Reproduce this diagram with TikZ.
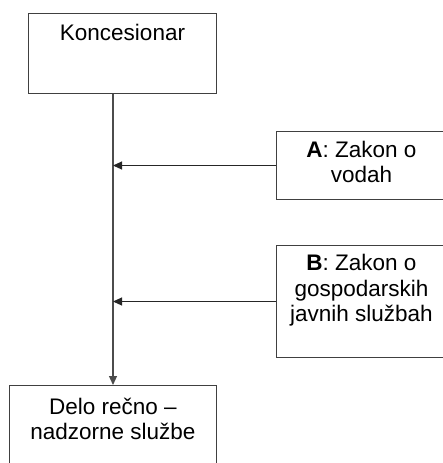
\documentclass[tikz,border=0pt]{standalone}
\usepackage{fontspec}
\setmainfont{Liberation Sans}
\usetikzlibrary{arrows.meta}
\tikzset{
  box/.style={draw=black!75, line width=1pt, inner sep=0pt, anchor=north west,
    align=center, font=\fontsize{22.5}{25.5}\selectfont},
  link/.style={draw=black!85, line width=1pt, -{Triangle[length=9pt,width=8pt]}}
}
\begin{document}
\begin{tikzpicture}[x=1pt,y=-1pt]
  \useasboundingbox (0,0) rectangle (443,463);
  \node[box, minimum width=188pt, text height=27pt, text depth=53pt] (kon) at (28,13) {Koncesionar};
  \node[box, minimum width=170pt, text height=51pt, text depth=17pt] (a) at (276,131) {\textbf{A}: Zakon o\\vodah};
  \node[box, minimum width=170pt, text height=76pt, text depth=36pt] (b) at (276,245) {\textbf{B}: Zakon o\\gospodarskih\\javnih službah};
  \node[box, minimum width=207pt, text height=54pt, text depth=74pt] (delo) at (9,385) {Delo rečno –\\nadzorne službe};
  \begin{scope}[link]
    \draw[draw=black!70, line width=1.2pt] (delo.north |- kon.south) to (delo.north);
    \draw (a.west) to (a.west -| delo.north);
    \draw (b.west) to (b.west -| delo.north);
  \end{scope}
\end{tikzpicture}
\end{document}
